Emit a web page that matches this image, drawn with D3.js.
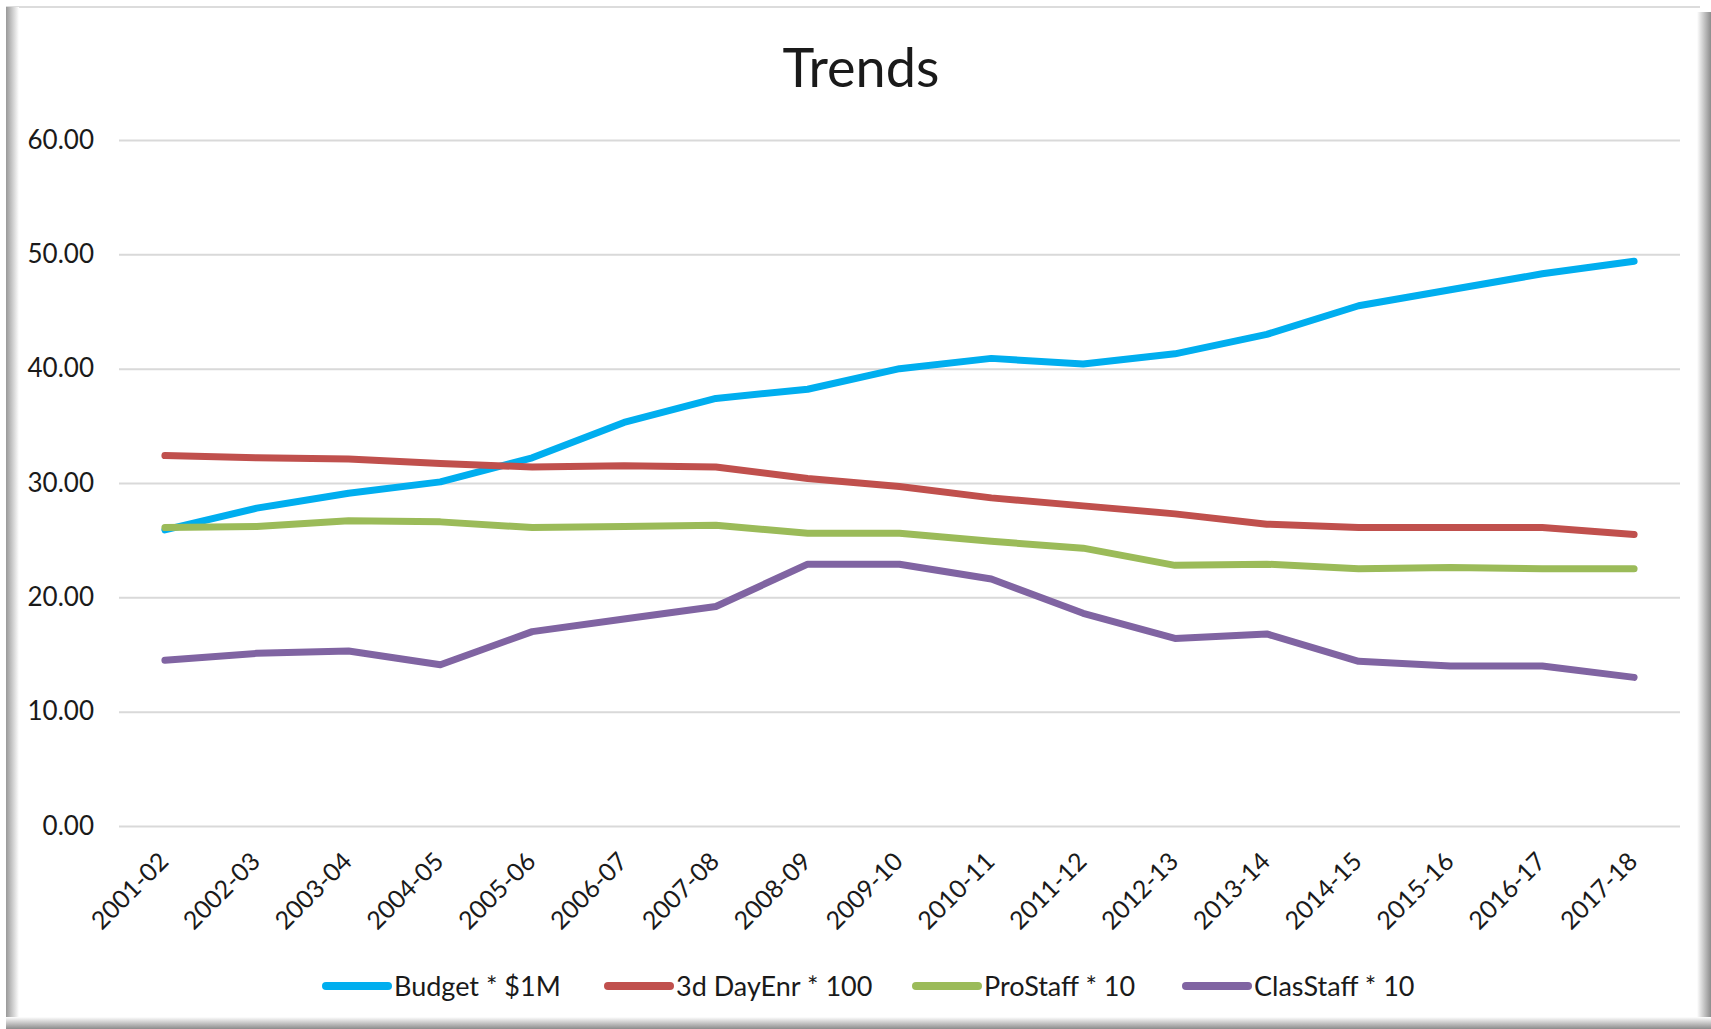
<!DOCTYPE html>
<html>
<head>
<meta charset="utf-8">
<script src="https://cdn.jsdelivr.net/npm/d3@7"></script>
<style>
  html, body { margin: 0; padding: 0; background: #ffffff; }
  svg { display: block; }
  text { font-family: Lato, "Open Sans", "Liberation Sans", sans-serif; fill: #1a1a1a; }
</style>
</head>
<body>
<svg id="chart" width="1711" height="1029"></svg>
<script>
// School years on the category axis
const categories = ["2001-02", "2002-03", "2003-04", "2004-05", "2005-06", "2006-07",
  "2007-08", "2008-09", "2009-10", "2010-11", "2011-12", "2012-13", "2013-14",
  "2014-15", "2015-16", "2016-17", "2017-18"];

// Series values (scaled as named in the legend)
const budget    = [25.9, 27.8, 29.1, 30.1, 32.2, 35.3, 37.4, 38.2, 40.0, 40.9, 40.4, 41.3, 43.0, 45.5, 46.9, 48.3, 49.4];
const dayEnr    = [32.4, 32.2, 32.1, 31.7, 31.4, 31.5, 31.4, 30.4, 29.7, 28.7, 28.0, 27.3, 26.4, 26.1, 26.1, 26.1, 25.5];
const proStaff  = [26.1, 26.2, 26.7, 26.6, 26.1, 26.2, 26.3, 25.6, 25.6, 24.9, 24.3, 22.8, 22.9, 22.5, 22.6, 22.5, 22.5];
const clasStaff = [14.5, 15.1, 15.3, 14.1, 17.0, 18.1, 19.2, 22.9, 22.9, 21.6, 18.6, 16.4, 16.8, 14.4, 14.0, 14.0, 13.0];

const seriesNames  = ["Budget * $1M", "3d DayEnr * 100", "ProStaff * 10", "ClasStaff * 10"];
const seriesColors = ["#00aeef", "#c0504d", "#9bbb59", "#8064a2"];
const yTicks = [0, 10, 20, 30, 40, 50, 60];

const series = [budget, dayEnr, proStaff, clasStaff].map((values, i) => ({
  name: seriesNames[i], color: seriesColors[i], values
}));

const svg = d3.select("#chart");
const W = 1711, H = 1029;
const plot = { left: 119, right: 1680, top: 140, bottom: 826 };

// ---- chart frame with bevelled shadow edges ----
const defs = svg.append("defs");
function grad(id, x1, y1, x2, y2, c1, c2) {
  const g = defs.append("linearGradient").attr("id", id)
    .attr("x1", x1).attr("y1", y1).attr("x2", x2).attr("y2", y2);
  g.append("stop").attr("offset", "0%").attr("stop-color", c1);
  g.append("stop").attr("offset", "100%").attr("stop-color", c2);
}
grad("edgeLeft", 0, 0, 1, 0, "#999999", "#ffffff");
grad("edgeRight", 0, 0, 1, 0, "#ffffff", "#8c8c8c");
grad("edgeBottom", 0, 0, 0, 1, "#ffffff", "#8c8c8c");

svg.append("rect").attr("width", W).attr("height", H).attr("fill", "#ffffff");
svg.append("rect").attr("x", 6).attr("y", 6).attr("width", 1694).attr("height", 2).attr("fill", "#dcdcdc");
svg.append("rect").attr("x", 6).attr("y", 7).attr("width", 13).attr("height", 1012).attr("fill", "url(#edgeLeft)");
svg.append("rect").attr("x", 1697).attr("y", 12).attr("width", 14).attr("height", 1017).attr("fill", "url(#edgeRight)");
svg.append("rect").attr("x", 6).attr("y", 1017).attr("width", 1705).attr("height", 12).attr("fill", "url(#edgeBottom)");

// ---- scales ----
const x = d3.scaleBand().domain(categories).range([plot.left, plot.right]).paddingInner(0).paddingOuter(0);
const xc = d => x(d) + x.bandwidth() / 2;
const y = d3.scaleLinear().domain([0, 60]).range([plot.bottom, plot.top]);

// ---- title ----
svg.append("text")
  .attr("x", 861).attr("y", 87)
  .attr("text-anchor", "middle")
  .style("font-size", "54px")
  .text("Trends");

// ---- y axis: gridlines and labels ----
const yAxis = d3.axisLeft(y)
  .tickValues(yTicks)
  .tickSize(-(plot.right - plot.left))
  .tickPadding(25)
  .tickFormat(d3.format(".2f"));
const gy = svg.append("g").attr("transform", `translate(${plot.left},0)`).call(yAxis);
gy.select(".domain").remove();
gy.selectAll(".tick line").attr("stroke", "#d9d9d9").attr("stroke-width", 2);
gy.selectAll(".tick text")
  .attr("fill", "#1a1a1a")
  .style("font-family", "Lato, 'Open Sans', sans-serif")
  .style("font-size", "26px");

// ---- x axis: rotated category labels ----
const xAxis = d3.axisBottom(x).tickSize(0).tickPadding(0);
const gx = svg.append("g").attr("transform", `translate(0,${plot.bottom})`).call(xAxis);
gx.select(".domain").remove();
gx.selectAll(".tick text")
  .attr("fill", "#1a1a1a")
  .style("font-family", "Lato, 'Open Sans', sans-serif")
  .style("font-size", "25px")
  .attr("text-anchor", "end")
  .attr("dy", null)
  .attr("y", 0)
  .attr("transform", "translate(5,37) rotate(-45)");

// ---- series lines ----
const line = d3.line()
  .x((d, i) => xc(categories[i]))
  .y(d => y(d));

svg.append("g").selectAll("path")
  .data(series)
  .join("path")
  .attr("d", s => line(s.values))
  .attr("fill", "none")
  .attr("stroke", s => s.color)
  .attr("stroke-width", 7)
  .attr("stroke-linecap", "round")
  .attr("stroke-linejoin", "round");

// ---- legend ----
const legendX = [322, 604, 912, 1182];
const legendY = 986;
const lg = svg.append("g").selectAll("g")
  .data(series)
  .join("g")
  .attr("transform", (s, i) => `translate(${legendX[i]},${legendY})`);
lg.append("line")
  .attr("x1", 4).attr("x2", 66)
  .attr("y1", 0).attr("y2", 0)
  .attr("stroke", s => s.color)
  .attr("stroke-width", 8)
  .attr("stroke-linecap", "round");
lg.append("text")
  .attr("x", 72).attr("y", 0)
  .attr("dy", "0.36em")
  .style("font-size", "27px")
  .text(s => s.name);
</script>
</body>
</html>
